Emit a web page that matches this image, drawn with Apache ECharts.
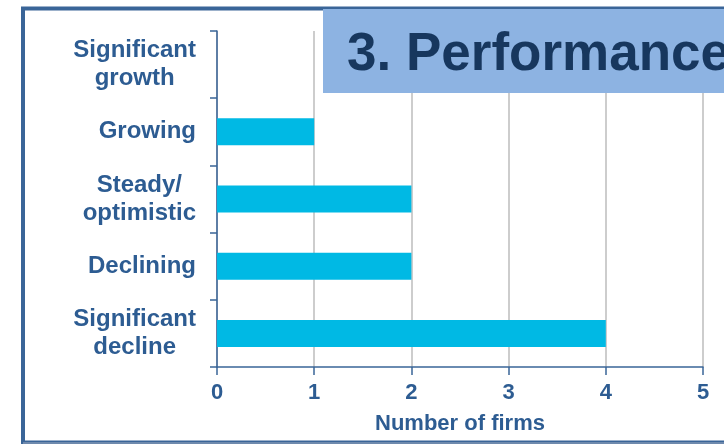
<!DOCTYPE html>
<html>
<head>
<meta charset="utf-8">
<script src="https://cdn.jsdelivr.net/npm/echarts@6/dist/echarts.min.js"></script>
<style>
    html, body { margin: 0; padding: 0; background: #fff; }
    #chart { width: 724px; height: 444px; }
</style>
</head>
<body>
<div id="chart"></div>
<script>
    // categories top to bottom
    var categories = ['Significant\ngrowth', 'Growing', 'Steady/\noptimistic', 'Declining', 'Significant\ndecline'];
    var firmCounts = [0, 1, 2, 2, 4];
    var xTicks = [0, 1, 2, 3, 4, 5];
    var titleText = '3. Performance';

    var labelColor = '#2d5c92';
    var axisColor = '#3a6598';
    var fontFamily = '"Liberation Sans", Arial, sans-serif';

    var chart = echarts.init(document.getElementById('chart'));
    var option = {
        animation: false,
        graphic: [
            // slide frame
            {
                type: 'rect', z: 0,
                shape: { x: 23, y: 8.5, width: 760, height: 434 },
                style: { fill: 'none', stroke: axisColor, lineWidth: 4 }
            },
            {
                type: 'line', z: 1,
                shape: { x1: 23, y1: 443, x2: 724, y2: 443 },
                style: { stroke: '#8096b4', lineWidth: 1.5 }
            },
            // title box
            {
                type: 'rect', z: 2,
                shape: { x: 323, y: 9, width: 420, height: 84 },
                style: { fill: '#8db3e2' }
            },
            {
                type: 'text', z: 3,
                left: 347, top: 29,
                style: {
                    text: titleText,
                    fill: '#17375e',
                    font: 'bold 53px ' + fontFamily
                }
            }
        ],
        grid: { left: 217, right: 21, top: 31, bottom: 77 },
        xAxis: {
            type: 'value',
            min: 0,
            max: 5,
            interval: 1,
            name: 'Number of firms',
            nameLocation: 'middle',
            nameGap: 46,
            nameTextStyle: {
                color: labelColor,
                fontFamily: fontFamily,
                fontWeight: 'bold',
                fontSize: 22
            },
            axisLine: { show: true, lineStyle: { color: axisColor, width: 1.5 } },
            axisTick: { show: true, length: 8, lineStyle: { color: axisColor, width: 1.5 } },
            axisLabel: {
                margin: 15,
                color: labelColor,
                fontFamily: fontFamily,
                fontWeight: 'bold',
                fontSize: 22,
                formatter: function (v) { return xTicks.indexOf(v) >= 0 ? String(v) : ''; }
            },
            splitLine: { show: true, lineStyle: { color: '#bdbdbd', width: 1.5 } }
        },
        yAxis: {
            type: 'category',
            inverse: true,
            data: categories,
            axisLine: { show: true, lineStyle: { color: axisColor, width: 1.5 } },
            axisTick: { show: true, length: 7, lineStyle: { color: axisColor, width: 1.5 } },
            axisLabel: {
                margin: 21,
                align: 'right',
                formatter: function (v) {
                    return v.split('\n').map(function (s) { return '{c|' + s + '}'; }).join('\n');
                },
                rich: {
                    c: {
                        align: 'center',
                        color: labelColor,
                        fontFamily: fontFamily,
                        fontWeight: 'bold',
                        fontSize: 24,
                        lineHeight: 28
                    }
                }
            },
            splitLine: { show: false }
        },
        series: [
            {
                type: 'bar',
                data: firmCounts,
                barWidth: 27,
                itemStyle: { color: '#00b9e4' }
            }
        ]
    };
    chart.setOption(option);
</script>
</body>
</html>
